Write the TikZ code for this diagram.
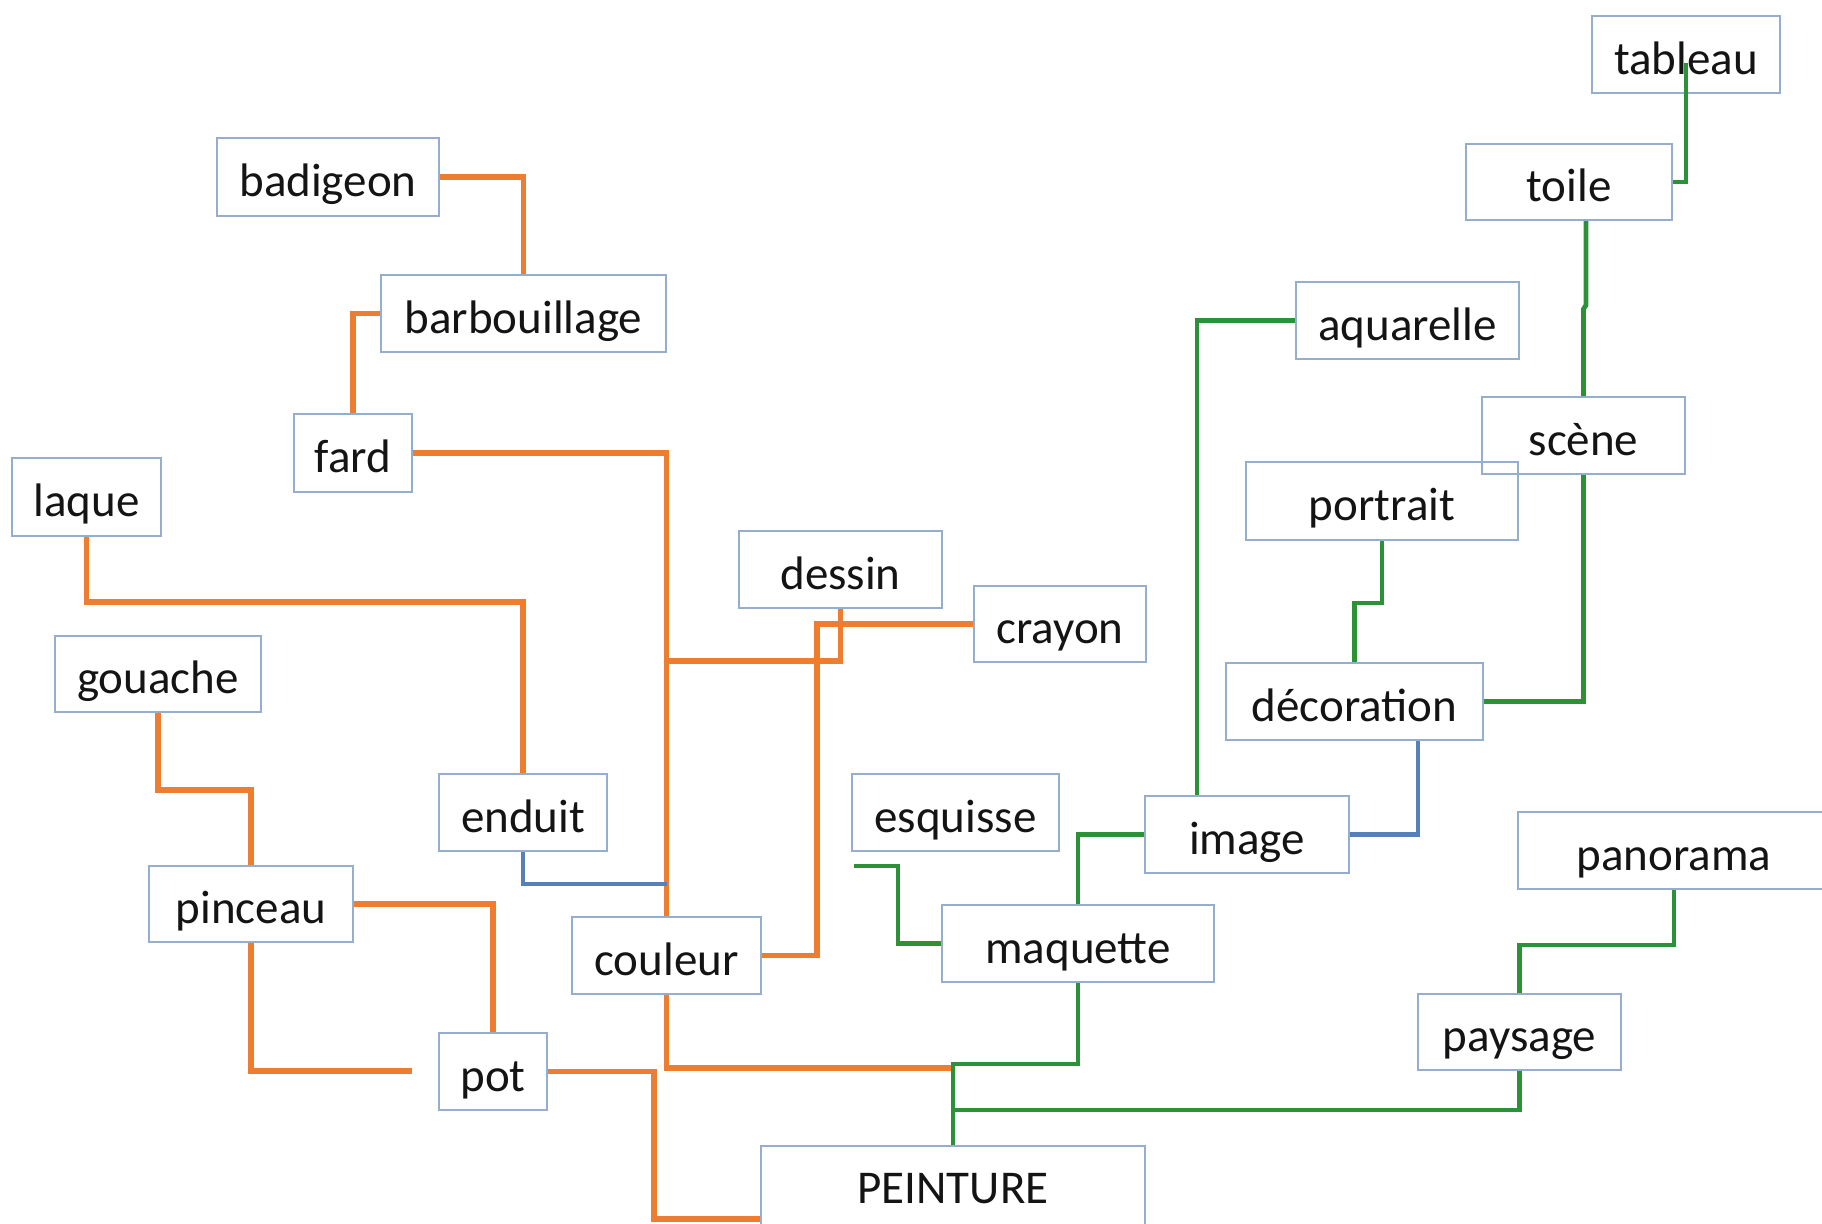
\documentclass[tikz,border=0pt]{standalone}
\usepackage{fontspec}
\setmainfont{Carlito}
\definecolor{orangeL}{RGB}{237,125,49}
\definecolor{greenL}{RGB}{44,146,55}
\definecolor{blueL}{RGB}{86,128,186}
\definecolor{boxC}{RGB}{150,174,206}
\definecolor{txtC}{RGB}{20,20,20}
\begin{document}
\begin{tikzpicture}[x=0.5pt,y=-0.5pt,
 bx/.style 2 args={draw=boxC, line width=1pt, inner sep=0pt, minimum width=#1*0.5pt, minimum height=#2*0.5pt, text=txtC, font=\fontsize{23.5}{28}\selectfont, text height=22.3pt, text depth=2.6pt},
 ol/.style={draw=orangeL, line width=2.6pt},
 gl/.style={draw=greenL, line width=2.4pt},
 bl/.style={draw=blueL, line width=2.4pt}]
\useasboundingbox (0,0) rectangle (1822,1223);
\clip (0,0) rectangle (1822,1223);
\fill[white] (0,0) rectangle (1822,1223);

\node[bx={188}{77}] (tableau) at (1686,54.5) {tableau};
\node[bx={206}{76}] (toile) at (1569,182) {toile};
\node[bx={223}{77}] (aquarelle) at (1407.5,320.5) {aquarelle};
\node[bx={203}{77}] (scene) at (1583.5,435.5) {scène};
\node[bx={272}{78}] (portrait) at (1382,501) {portrait};
\node[bx={222}{78}] (badigeon) at (328,177) {badigeon};
\node[bx={285}{77}] (barbouillage) at (523.5,313.5) {barbouillage};
\node[bx={118}{78}] (fard) at (353,453) {fard};
\node[bx={149}{78}] (laque) at (86.5,497) {laque};
\node[bx={203}{77}] (dessin) at (840.5,569.5) {dessin};
\node[bx={172}{76}] (crayon) at (1060,624) {crayon};
\node[bx={206}{76}] (gouache) at (158,674) {gouache};
\node[bx={257}{77}] (deco) at (1354.5,701.5) {décoration};
\node[bx={207}{77}] (esquisse) at (955.5,812.5) {esquisse};
\node[bx={168}{77}] (enduit) at (523,812.5) {enduit};
\node[bx={204}{77}] (image) at (1247,834.5) {image};
\node[bx={312}{77}] (panorama) at (1674,850.5) {panorama};
\node[bx={204}{76}] (pinceau) at (251,904) {pinceau};
\node[bx={189}{77}] (couleur) at (666.5,955.5) {couleur};
\node[bx={272}{77}] (maquette) at (1078,943.5) {maquette};
\node[bx={108}{77}] (pot) at (493,1071.5) {pot};
\node[bx={203}{76}] (paysage) at (1519.5,1032) {paysage};
\node[bx={384}{84}, text depth=7.3pt] (peinture) at (953,1188) {PEINTURE};

\coordinate (pinfree) at (412,1071);
\coordinate (esqfree) at (854,866);

% orange
\draw[ol] (badigeon.east) -| (barbouillage.north);
\draw[ol] (barbouillage.west) -| (fard.north);
\draw[ol] (fard.east) -| (couleur.north);
\draw[ol] (laque.south) -- ++(0,65) -| (enduit.north);
\draw[ol] (gouache.south) -- ++(0,77) -| (pinceau.north);
\draw[ol] (pinceau.east) -| (pot.north);
\draw[ol] (pinceau.south) |- (pinfree);
\draw[ol] (pot.east) -- ++(106,0) |- (peinture.west |- 0,1219);
\draw[ol] (couleur.south) |- (peinture.north |- 0,1068);
\draw[ol] (couleur.east) -- ++(55,0) |- (crayon.west);
\draw[ol] (dessin.south) |- (couleur.north |- 0,661);

% blue
\draw[bl] (enduit.south) |- (couleur.north |- 0,884);
\draw[bl] (deco.south -| 1418,0) |- (image.east);

% green
\draw[gl] (tableau.center |- 0,63) |- (toile.east);
\draw[gl] (toile.south -| 1586,0) -- (1586,305) -- (scene.north |- 0,309) -- (scene.north);
\draw[gl] (scene.south) |- (deco.east);
\draw[gl] (portrait.south) -- ++(0,62) -| (deco.north);
\draw[gl] (aquarelle.west) -| (image.north -| 1197,0);
\draw[gl] (image.west) -| (maquette.north);
\draw[gl] (esqfree) -- ++(44,0) |- (maquette.west);
\draw[gl] (maquette.south) -- ++(0,81) -| (peinture.north);
\draw[gl] (paysage.south) |- (peinture.north |- 0,1110);
\draw[gl] (panorama.south) -- ++(0,55) -| (paysage.north);
\end{tikzpicture}
\end{document}
